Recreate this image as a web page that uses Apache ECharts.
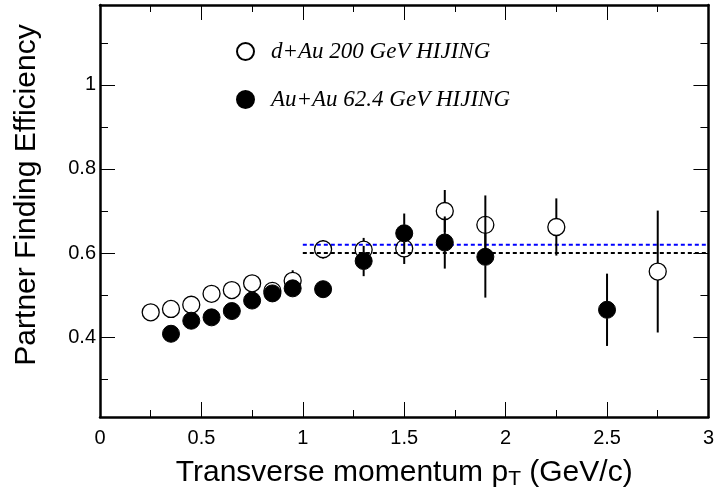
<!DOCTYPE html>
<html>
<head>
<meta charset="utf-8">
<script src="https://cdn.jsdelivr.net/npm/echarts@6/dist/echarts.min.js"></script>
<style>html,body{margin:0;padding:0;background:#fff;}#c{width:717px;height:496px;}</style>
</head>
<body>
<div id="c"></div>
<script>
// ---- data ----
const nameDAu = 'd+Au 200 GeV HIJING';
const nameAuAu = 'Au+Au 62.4 GeV HIJING';
const xDAu = [0.25, 0.35, 0.45, 0.55, 0.65, 0.75, 0.85, 0.95, 1.1, 1.3, 1.5, 1.7, 1.9, 2.25, 2.75];
const yDAu = [0.459, 0.467, 0.477, 0.503, 0.512, 0.528, 0.510, 0.534, 0.609, 0.608, 0.611, 0.700, 0.667, 0.662, 0.556];
const eDAu = [0, 0, 0, 0, 0, 0, 0, 0.025, 0.022, 0.028, 0.037, 0.05, 0.07, 0.068, 0.145];
const xAuAu = [0.35, 0.45, 0.55, 0.65, 0.75, 0.85, 0.95, 1.1, 1.3, 1.5, 1.7, 1.9, 2.5];
const yAuAu = [0.408, 0.439, 0.447, 0.462, 0.487, 0.504, 0.516, 0.514, 0.581, 0.647, 0.625, 0.591, 0.465];
const eAuAu = [0, 0, 0, 0, 0, 0, 0, 0, 0.036, 0.047, 0.062, 0.097, 0.086];
const fitBlue = 0.62, fitBlack = 0.60, fitFrom = 1.0, fitTo = 3.0;
const yMajor = [0.4, 0.6, 0.8, 1.0];
const yMinor = [0.3, 0.5, 0.7, 0.9, 1.1];
const yLabels = ['0.4', '0.6', '0.8', '1'];

// ---- build ----
const R = 8.5;
const dAuPts = xDAu.map((x, i) => [x, yDAu[i], eDAu[i]]);
const auAuPts = xAuAu.map((x, i) => [x, yAuAu[i], eAuAu[i]]);

function errRender(params, api) {
  const x = api.value(0), y = api.value(1), e = api.value(2);
  if (!e) return null;
  const p = api.coord([x, y]);
  const t = api.coord([x, y + e]);
  const b = api.coord([x, y - e]);
  const ch = [];
  const st = { stroke: '#000', lineWidth: 2 };
  if (p[1] - R > t[1]) ch.push({ type: 'line', shape: { x1: p[0], y1: t[1], x2: p[0], y2: p[1] - R }, style: st });
  if (b[1] > p[1] + R) ch.push({ type: 'line', shape: { x1: p[0], y1: p[1] + R, x2: p[0], y2: b[1] }, style: st });
  return { type: 'group', children: ch };
}

const axisLineStyle = { show: true, lineStyle: { color: '#000', width: 2.5 } };
const font = 'Liberation Sans, Arial, sans-serif';
const serif = 'Liberation Serif, Times New Roman, serif';

function yAx(pos, major, withLabels) {
  return {
    type: 'value', position: pos, min: 0.21, max: 1.19,
    axisLine: major ? axisLineStyle : { show: false },
    splitLine: { show: false },
    axisTick: { show: true, inside: true, length: major ? 15 : 8, customValues: major ? yMajor : yMinor, lineStyle: { color: '#000', width: 1 } },
    axisLabel: withLabels ? {
      show: true, customValues: yMajor, margin: 4, color: '#000', fontFamily: font, fontSize: 20,
      formatter: v => yLabels[yMajor.findIndex(m => Math.abs(m - v) < 1e-6)]
    } : { show: false }
  };
}

function legendAt(name, top) {
  return { data: [name], left: 231, top: top, itemWidth: 17, itemHeight: 17, selectedMode: false,
    textStyle: { fontFamily: serif, fontStyle: 'italic', fontSize: 23, color: '#000', padding: [0, 0, 0, 12] } };
}

const option = {
  animation: false,
  backgroundColor: '#fff',
  grid: { left: 100, right: 7, top: 5, bottom: 79 },
  legend: [legendAt(nameDAu, 35), legendAt(nameAuAu, 83)],
  xAxis: [
    { type: 'value', position: 'bottom', min: 0, max: 3, interval: 0.5,
      axisLine: axisLineStyle, splitLine: { show: false },
      axisTick: { show: true, inside: true, length: 15, lineStyle: { color: '#000', width: 1 } },
      minorTick: { show: true, splitNumber: 2, length: 7, lineStyle: { color: '#000', width: 1 } },
      axisLabel: { color: '#000', fontFamily: font, fontSize: 20, margin: 11, formatter: v => String(v) },
      name: '{a|Transverse momentum p}{s|T}{a| (GeV/c)}', nameLocation: 'middle', nameGap: 39,
      nameTextStyle: { rich: {
        a: { fontFamily: font, fontSize: 30, color: '#000' },
        s: { fontFamily: font, fontSize: 21, color: '#000', verticalAlign: 'bottom', padding: [13, 0, 0, 0] }
      } }
    },
    { type: 'value', position: 'top', min: 0, max: 3, interval: 0.5,
      axisLine: axisLineStyle, splitLine: { show: false },
      axisTick: { show: true, inside: true, length: 15, lineStyle: { color: '#000', width: 1 } },
      minorTick: { show: true, splitNumber: 2, length: 7, lineStyle: { color: '#000', width: 1 } },
      axisLabel: { show: false } }
  ],
  yAxis: [
    Object.assign(yAx('left', true, true), {
      name: 'Partner Finding Efficiency', nameLocation: 'middle', nameGap: 58,
      nameTextStyle: { fontFamily: font, fontSize: 30, color: '#000', padding: [0, 0, 0, 32] }
    }),
    yAx('left', false, false),
    yAx('right', true, false),
    yAx('right', false, false)
  ],
  series: [
    { type: 'line', name: 'fitBlue', data: [[fitFrom, fitBlue], [fitTo, fitBlue]], symbol: 'none',
      lineStyle: { color: '#0000ff', width: 2, type: [4, 3] }, z: 1 },
    { type: 'line', name: 'fitBlack', data: [[fitFrom, fitBlack], [fitTo, fitBlack]], symbol: 'none',
      lineStyle: { color: '#000', width: 2, type: [4, 3] }, z: 1 },
    { type: 'custom', name: 'errDAu', data: dAuPts, renderItem: errRender, encode: { x: 0, y: 1 }, z: 2 },
    { type: 'custom', name: 'errAuAu', data: auAuPts, renderItem: errRender, encode: { x: 0, y: 1 }, z: 2 },
    { type: 'scatter', name: nameDAu, data: dAuPts.map(p => [p[0], p[1]]), symbol: 'circle', symbolSize: 17,
      itemStyle: { color: 'rgba(255,255,255,0)', borderColor: '#000', borderWidth: 1.3, opacity: 1 }, z: 3 },
    { type: 'scatter', name: nameAuAu, data: auAuPts.map(p => [p[0], p[1]]), symbol: 'circle', symbolSize: 17,
      itemStyle: { color: '#000', borderColor: '#000', borderWidth: 1, opacity: 1 }, z: 4 }
  ]
};
const chart = echarts.init(document.getElementById('c'), null, { renderer: 'canvas' });
chart.setOption(option);
</script>
</body>
</html>
